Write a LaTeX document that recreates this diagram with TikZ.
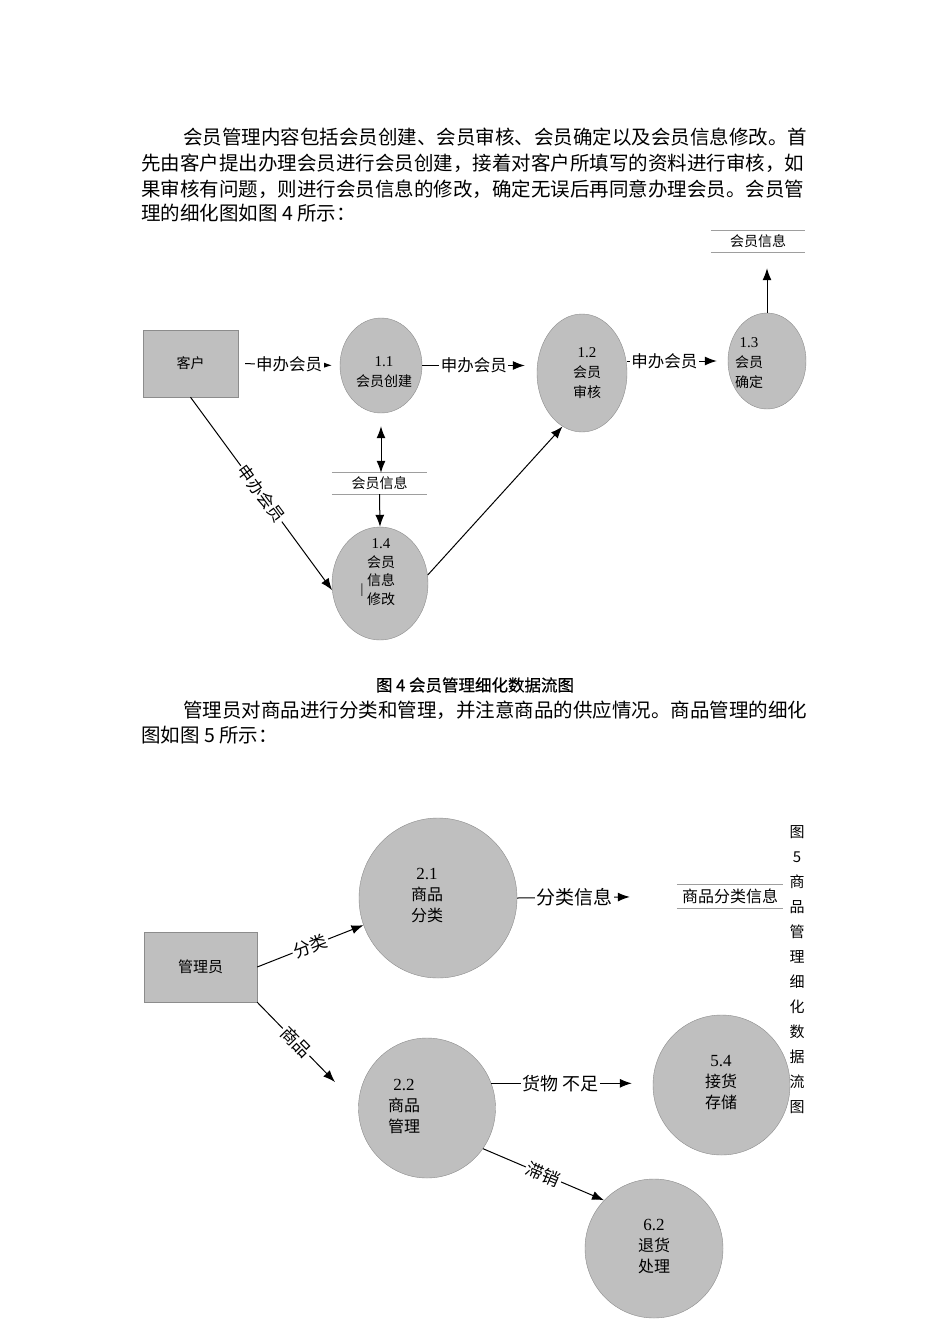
\documentclass[tikz,border=0pt]{standalone}
\usepackage{fontspec}
\setmainfont{Noto Sans CJK SC}
\newfontfamily\numfont{Liberation Serif}
\newfontfamily\capfont[FakeBold=0.6]{Noto Sans CJK SC}
\usetikzlibrary{arrows.meta,shapes.geometric}
\definecolor{procfill}{HTML}{BFBFBF}
\definecolor{procline}{HTML}{8C8C8C}
\definecolor{storeline}{HTML}{9E9E9E}
\newcommand{\fsz}[2]{\fontsize{#1}{#2}\selectfont}

\begin{document}
\begin{tikzpicture}[x=1pt,y=-1pt,
  entity/.style={draw=procline,fill=procfill,minimum width=95pt,minimum height=67pt,inner sep=0pt},
  proc/.style={ellipse,draw=procline,fill=procfill,inner sep=0pt},
  ptext/.style={align=center,inner sep=0pt},
  store/.style={minimum height=21pt,inner sep=0pt},
  sline/.style={draw=storeline,line width=0.8pt},
  flow/.style={-{Latex[length=12pt,width=9pt]},line width=1pt},
  flowlbl/.style={fill=white,inner sep=1.5pt},
  para/.style={anchor=west,inner sep=0pt,font=\fsz{19.5}{19.5}},
]
\useasboundingbox[fill=white] (0,0) rectangle (950,1344);

\node[para] (t1) at (183,137) {会员管理内容包括会员创建、会员审核、会员确定以及会员信息修改。首};
\node[para] (t2) at (141,163) {先由客户提出办理会员进行会员创建，接着对客户所填写的资料进行审核，如};
\node[para] (t3) at (141,189) {果审核有问题，则进行会员信息的修改，确定无误后再同意办理会员。会员管};
\node[para] (t4) at (141,213) {理的细化图如图 4 所示：};

% member management
\node[entity] (kehu) at (190.5,363.5) {\fsz{14}{14}客户};
\node[proc,minimum width=82pt,minimum height=95pt] (p11) at (381,365.5) {};
\node[ptext,font=\fsz{14}{20}] (p11t) at (384,372) {{\numfont\fsz{15}{15}1.1}\\会员创建};
\node[proc,minimum width=90pt,minimum height=118pt] (p12) at (582,373) {};
\node[ptext,font=\fsz{14}{20}] (p12t) at (587,373) {{\numfont\fsz{15}{15}1.2}\\会员\\审核};
\node[proc,minimum width=78pt,minimum height=96pt] (p13) at (767,361) {};
\node[ptext,font=\fsz{14}{20}] (p13t) at (749,363) {{\numfont\fsz{15}{15}1.3}\\会员\\确定};
\node[proc,minimum width=96pt,minimum height=113pt] (p14) at (380,583.5) {};
\node[ptext,font=\fsz{14}{18.7}] (p14t) at (381,572) {{\numfont\fsz{15}{15}1.4}\\会员\\信息\\修改};
\node[font=\numfont\fsz{14}{14},inner sep=0pt] (p14bar) at (362,590) {|};

\node[store,minimum width=94pt] (ds1) at (758,241.5) {\fsz{14}{14}会员信息};
\draw[sline] (ds1.north west) -- (ds1.north east) (ds1.south west) -- (ds1.south east);
\node[store,minimum width=95pt] (ds2) at (379.5,483.5) {\fsz{14}{14}会员信息};
\draw[sline] (ds2.north west) -- (ds2.north east) (ds2.south west) -- (ds2.south east);

\draw[flow,shorten <=7pt,shorten >=8pt] (kehu.east) -- node[flowlbl,font=\fsz{16.5}{16.5}] (f1) {申办会员} (p11.west);
\draw[flow,shorten >=12pt] (p11.east) -- node[flowlbl,font=\fsz{16.5}{16.5},pos=0.45] (f2) {申办会员} (p11.east -| p12.west);
\draw[flow,shorten >=11pt] (p12.east |- p13.west) -- node[flowlbl,font=\fsz{16.5}{16.5},pos=0.37] (f3) {申办会员} (p13.west);
\draw[flow,shorten >=16pt] (p13.north) -- (p13.north |- ds1.south);
\draw[{Latex[length=12pt,width=9pt]}-{Latex[length=12pt,width=9pt]},line width=1pt,shorten <=13pt] (p11.south) -- (p11.south |- ds2.north);
\draw[flow] (ds2.south) -- (p14.north);
\draw[flow] (kehu.south) -- node[flowlbl,sloped,font=\fsz{16.5}{16.5}] (f4) {申办会员} (p14.188);
\draw[flow] (p14.10) -- (p12.250);

\node[font=\capfont\fsz{16.5}{16.5},inner sep=0pt] (cap4) at (475,685) {图 4 会员管理细化数据流图};

\node[para] (t5) at (183,710) {管理员对商品进行分类和管理，并注意商品的供应情况。商品管理的细化};
\node[para] (t6) at (141,735) {图如图 5 所示：};

% goods management
\node[entity,minimum width=113pt,minimum height=70pt] (glr) at (200.5,967) {\fsz{15}{15}管理员};
\node[proc,minimum width=158pt,minimum height=160pt] (p21) at (438,898) {};
\node[ptext,font=\fsz{16}{21}] (p21t) at (427,896) {{\numfont\fsz{17}{17}2.1}\\商品\\分类};
\node[proc,minimum width=137pt,minimum height=140pt] (p22) at (427,1108) {};
\node[ptext,font=\fsz{16}{21}] (p22t) at (404,1107) {{\numfont\fsz{17}{17}2.2}\\商品\\管理};
\node[proc,minimum width=137pt,minimum height=140pt] (p54) at (721.5,1085) {};
\node[ptext,font=\fsz{16}{21}] (p54t) at (721,1083) {{\numfont\fsz{17}{17}5.4}\\接货\\存储};
\node[proc,minimum width=138pt,minimum height=139pt] (p62) at (654,1248.5) {};
\node[ptext,font=\fsz{16}{21}] (p62t) at (654,1247) {{\numfont\fsz{17}{17}6.2}\\退货\\处理};

\node[store,minimum width=106pt,minimum height=23pt] (ds3) at (730,896.5) {\fsz{16}{16}商品分类信息};
\draw[sline] (ds3.north west) -- (ds3.north east) (ds3.south west) -- (ds3.south east);

\coordinate (spTip) at (335,1082);
\draw[flow] (glr.east) -- node[flowlbl,sloped,font=\fsz{17.5}{17.5}] (f5) {分类} (p21.200);
\draw[flow,shorten >=47pt] (p21.east) -- node[flowlbl,font=\fsz{19}{19},pos=0.36] (f6) {分类信息} (ds3.west);
\draw[flow] (glr.south east) -- node[flowlbl,sloped,font=\fsz{17.5}{17.5}] (f7) {商品} (spTip);
\draw[flow,shorten >=21pt] (p22.21) -- node[flowlbl,font=\fsz{18}{18},pos=0.43] (f8) {货物 不足} (p22.21 -| p54.west);
\draw[flow] (p22.-36) -- node[flowlbl,sloped,font=\fsz{17.5}{17.5}] (f9) {滞销} (p62.136);

\node[anchor=north,align=center,inner sep=0pt,font=\fsz{15}{25}] (cap5) at (797,825.5) {图\\5\\商\\品\\管\\理\\细\\化\\数\\据\\流\\图};
\end{tikzpicture}
\end{document}
